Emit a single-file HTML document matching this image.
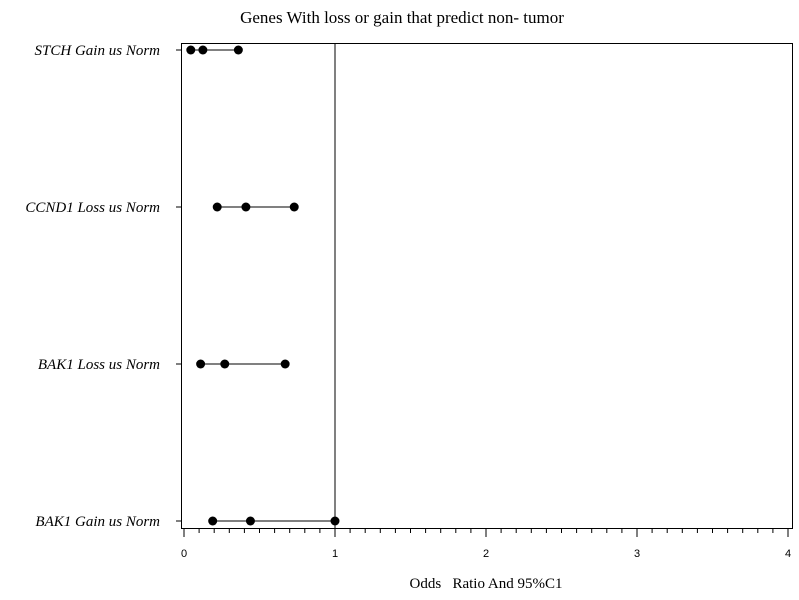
<!DOCTYPE html>
<html><head><meta charset="utf-8"><style>
html,body{margin:0;padding:0;background:#fff;}
svg{display:block;font-family:"Liberation Serif",serif;}
</style></head><body>
<svg id="chart" width="799" height="600" viewBox="0 0 799 600">
<text x="402" y="23" text-anchor="middle" font-size="17">Genes With loss or gain that predict non- tumor</text>
<rect x="181.5" y="43.5" width="611" height="485" fill="none" stroke="#000" stroke-width="1"/>
<g id="xaxis"></g>
<g id="yaxis"></g>
<g id="marks"></g>
<text x="486" y="588" text-anchor="middle" font-size="15">Odds &#160; Ratio And 95%C1</text>
</svg>
<script>
const categories = ["STCH Gain  us Norm","CCND1 Loss us Norm","BAK1  Loss us Norm","BAK1  Gain us Norm"];
const lowerCI = [0.045, 0.22, 0.11, 0.19];
const oddsRatio = [0.125, 0.41, 0.27, 0.44];
const upperCI = [0.36, 0.73, 0.67, 1.0];
const xTicks = [0,1,2,3,4];
const refValue = 1;

const NS="http://www.w3.org/2000/svg";
const x0=184, pxPer=151, rowTop=50, rowStep=157;
const xs=v=>x0+v*pxPer;
const ys=i=>rowTop+i*rowStep;
function mk(tag,attrs,parent){const e=document.createElementNS(NS,tag);for(const k in attrs)e.setAttribute(k,attrs[k]);parent.appendChild(e);return e;}
const xa=document.getElementById('xaxis'), ya=document.getElementById('yaxis'), mg=document.getElementById('marks');

// minor ticks
for(let t=0;t<=40;t++){
  const v=t/10, major=(t%10===0);
  const l=mk('line',{x1:xs(v),x2:xs(v),y1:528.5,y2:major?537:533,stroke:'#000','stroke-width':1},xa);
  
  
}
xTicks.forEach(v=>{
  const t=mk('text',{x:xs(v),y:557,'text-anchor':'middle','font-size':11,'font-family':'Liberation Sans, sans-serif'},xa);
  t.textContent=String(v);
  
  
});
// reference line
const rl=mk('line',{x1:xs(refValue),x2:xs(refValue),y1:43.5,y2:528.5,stroke:'#000','stroke-width':1},mg);



categories.forEach((c,i)=>{
  const y=ys(i);
  const tk=mk('line',{x1:176,x2:181.5,y1:y,y2:y,stroke:'#000'},ya);
  
  
  const lb=mk('text',{x:160,y:y+5,'text-anchor':'end','font-size':15,'font-style':'italic','xml:space':'preserve'},ya);
  lb.textContent=c;
  
  
  const ci=mk('line',{x1:xs(lowerCI[i]),x2:xs(upperCI[i]),y1:y,y2:y,stroke:'#000','stroke-width':1},mg);
  
  
  [lowerCI[i],oddsRatio[i],upperCI[i]].forEach((v,k)=>{
    const d=mk('circle',{cx:xs(v),cy:y,r:4.5,fill:'#000'},mg);
    
    
  });
});
</script>
</body></html>
